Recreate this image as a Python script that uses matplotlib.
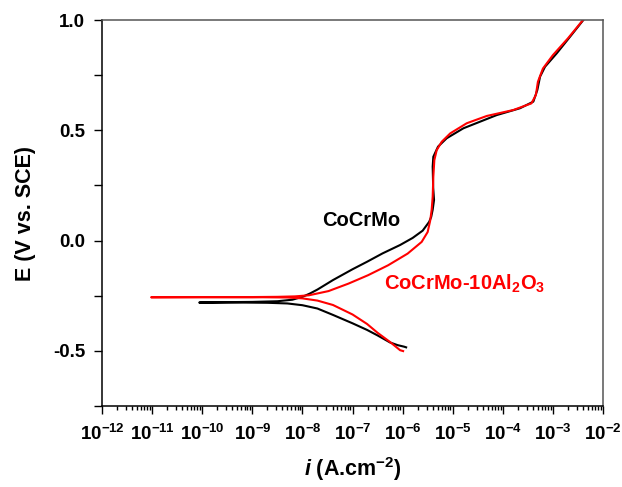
import numpy as np
import matplotlib
matplotlib.use("Agg")
import matplotlib.pyplot as plt
from matplotlib.ticker import FixedLocator, LogLocator, NullFormatter, FuncFormatter

plt.rcParams['font.family'] = ['Liberation Sans', 'DejaVu Sans']
plt.rcParams['font.weight'] = 'bold'
plt.rcParams['mathtext.fontset'] = 'custom'
plt.rcParams['mathtext.rm'] = 'Liberation Sans:bold'
plt.rcParams['mathtext.bf'] = 'Liberation Sans:bold'
plt.rcParams['mathtext.it'] = 'Liberation Sans:bold:italic'

# Polarisationskurven, gelesen aus dem Bild: log10(i / A.cm-2) und E (V vs. SCE)
# CoCrMo: kathodischer Ast -> Ecorr -> anodischer Ast
logi_cocrmo = [-5.93, -5.97, -6.10, -6.25, -6.50, -6.71, -7.00, -7.39, -7.70, -8.00,
               -8.30, -8.70, -9.20, -9.70, -10.06,
               -9.50, -9.00, -8.50, -8.20, -8.00, -7.85, -7.70, -7.39, -7.00, -6.71,
               -6.40, -6.05, -5.80, -5.60, -5.47, -5.43, -5.40, -5.373, -5.39, -5.40,
               -5.387, -5.293, -5.12, -4.788, -4.455, -4.122, -3.657, -3.391, -3.311,
               -3.257, -3.158, -2.924, -2.659, -2.393]
E_cocrmo = [-0.484, -0.481, -0.474, -0.462, -0.430, -0.405, -0.375, -0.337, -0.308, -0.293,
            -0.285, -0.282, -0.281, -0.281, -0.281,
            -0.279, -0.278, -0.275, -0.268, -0.255, -0.240, -0.222, -0.179, -0.130, -0.096,
            -0.058, -0.020, 0.012, 0.045, 0.085, 0.107, 0.140, 0.184, 0.240, 0.335,
            0.380, 0.426, 0.464, 0.509, 0.539, 0.569, 0.600, 0.630, 0.683,
            0.743, 0.788, 0.849, 0.924, 1.000]

# CoCrMo-10Al2O3
logi_al2o3 = [-5.99, -6.05, -6.25, -6.50, -6.71, -7.00, -7.39, -7.70, -8.00, -8.30,
              -8.80, -9.50, -10.20, -11.02,
              -10.00, -9.00, -8.50, -8.15, -7.87, -7.48, -7.08, -6.69, -6.29, -5.90,
              -5.62, -5.50, -5.45, -5.42, -5.40, -5.387, -5.367, -5.32, -5.22,
              -5.05, -4.72, -4.32, -3.79, -3.43, -3.34, -3.30, -3.20, -3.00, -2.70, -2.40]
E_al2o3 = [-0.501, -0.497, -0.460, -0.418, -0.378, -0.335, -0.292, -0.272, -0.262, -0.258,
           -0.257, -0.257, -0.257, -0.257,
           -0.256, -0.256, -0.255, -0.253, -0.248, -0.229, -0.195, -0.157, -0.112, -0.059,
           -0.006, 0.039, 0.090, 0.140, 0.199, 0.290, 0.365, 0.410, 0.448,
           0.486, 0.532, 0.565, 0.592, 0.622, 0.660, 0.720, 0.780, 0.841, 0.917, 1.000]

y_major = [-0.5, 0.0, 0.5, 1.0]
y_minor = [-0.75, -0.25, 0.25, 0.75]

fig = plt.figure(figsize=(6.22, 4.87), dpi=100)
ax = fig.add_axes([0.164, 0.1663, 0.8055, 0.7926])

ax.plot(10.0 ** np.array(logi_cocrmo), E_cocrmo, color='black', lw=1.5)
ax.plot(10.0 ** np.array(logi_al2o3), E_al2o3, color='#ff0000', lw=1.5)

ax.set_xscale('log')
ax.set_xlim(1e-12, 1e-2)
ax.set_ylim(-0.75, 1.0)

ax.xaxis.set_major_locator(LogLocator(base=10, numticks=20))
ax.xaxis.set_minor_locator(LogLocator(base=10, subs=np.arange(2, 10), numticks=20))
ax.xaxis.set_minor_formatter(NullFormatter())
ax.xaxis.set_major_formatter(FuncFormatter(lambda v, p: r'$10^{%d}$' % round(np.log10(v))))
ax.yaxis.set_major_locator(FixedLocator(y_major))
ax.yaxis.set_minor_locator(FixedLocator(y_minor))
ax.yaxis.set_major_formatter(FuncFormatter(lambda v, p: '%.1f' % v))

ax.tick_params(which='both', direction='out', top=False, right=False, width=1.0)
ax.tick_params(axis='x', which='major', length=6, pad=7, labelsize=13.5)
ax.tick_params(axis='x', which='minor', length=3)
ax.tick_params(axis='y', which='major', length=6, pad=6, labelsize=13.5)
ax.tick_params(axis='y', which='minor', length=6)

for s in ['left', 'bottom']:
    ax.spines[s].set_linewidth(1.1)
    ax.spines[s].set_color('black')
for s in ['top', 'right']:
    ax.spines[s].set_linewidth(1.1)
    ax.spines[s].set_color('#555555')

ax.set_xlabel(r'$i$ (A.cm$^{-2}$)', fontsize=15.5, fontweight='bold', labelpad=8)
ax.set_ylabel('E (V vs. SCE)', fontsize=15.5, fontweight='bold', labelpad=12)

ax.text(10 ** -7.60, 0.065, 'CoCrMo', color='black', fontsize=14.5, fontweight='bold',
        ha='left', va='baseline')
ax.text(10 ** -6.37, -0.222, r'CoCrMo-10Al$_2$O$_3$', color='#ff0000', fontsize=14.5,
        fontweight='bold', ha='left', va='baseline')

fig.savefig('out.png', dpi=100)
